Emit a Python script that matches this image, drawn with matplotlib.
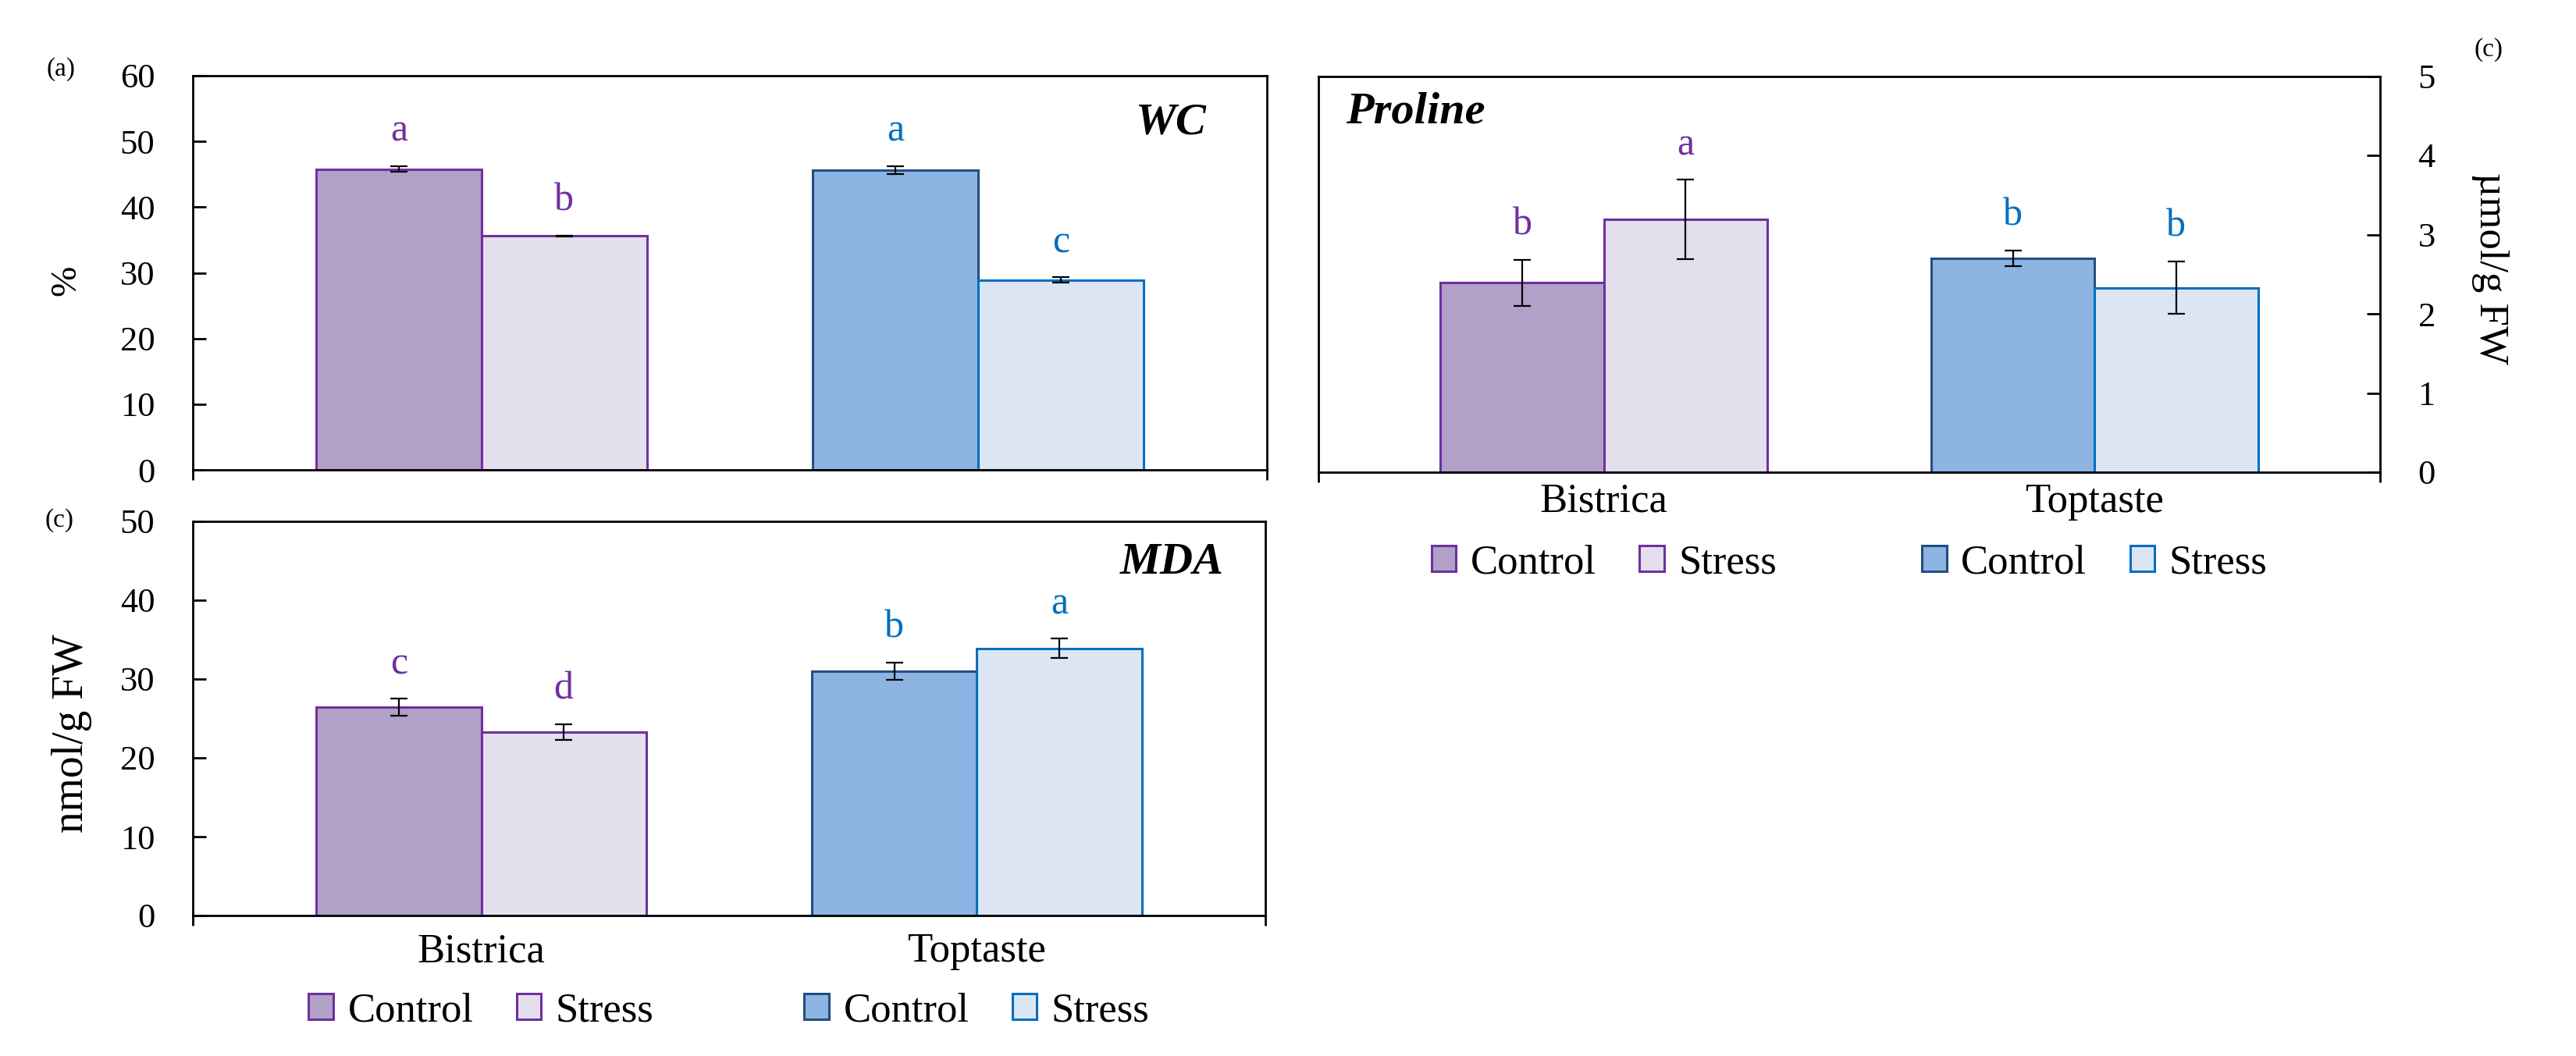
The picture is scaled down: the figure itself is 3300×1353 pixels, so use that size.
import matplotlib
matplotlib.use("Agg")
import matplotlib.pyplot as plt
import numpy as np

plt.rcParams['font.family'] = ['Liberation Serif', 'DejaVu Serif']

# ---------------- data ----------------
cultivars = ["Bistrica", "Toptaste"]
treatments = ["Control", "Stress"]

wc_control = [45.8, 45.6]
wc_stress = [35.6, 28.9]
wc_control_err = [0.4, 0.6]
wc_stress_err = [0.1, 0.4]
wc_control_letters = ["a", "a"]
wc_stress_letters = ["b", "c"]

proline_control = [2.39, 2.70]
proline_stress = [3.19, 2.33]
proline_control_err = [0.29, 0.10]
proline_stress_err = [0.50, 0.33]
proline_control_letters = ["b", "b"]
proline_stress_letters = ["a", "b"]

mda_control = [26.4, 31.0]
mda_stress = [23.3, 33.9]
mda_control_err = [1.1, 1.1]
mda_stress_err = [1.0, 1.2]
mda_control_letters = ["c", "b"]
mda_stress_letters = ["d", "a"]

wc_ticks = [0, 10, 20, 30, 40, 50, 60]
mda_ticks = [0, 10, 20, 30, 40, 50]
proline_ticks = [0, 1, 2, 3, 4, 5]

# ---------------- style ----------------
fill_colors = {("Bistrica", "Control"): "#B1A0C7", ("Bistrica", "Stress"): "#E4DFEC",
               ("Toptaste", "Control"): "#8EB4E3", ("Toptaste", "Stress"): "#DCE6F2"}
edge_colors = {("Bistrica", "Control"): "#7030A0", ("Bistrica", "Stress"): "#7030A0",
               ("Toptaste", "Control"): "#254E7E", ("Toptaste", "Stress"): "#0070C0"}
letter_colors = {"Bistrica": "#7030A0", "Toptaste": "#0070C0"}

W = 3300
H = 1353
fig = plt.figure(figsize=(W / 100, H / 100), dpi=100)


def frac_rect(l, t, r, b):
    return [l / W, 1 - b / H, (r - l) / W, (b - t) / H]


ax_wc = fig.add_axes(frac_rect(247, 97, 1623, 602))
ax_mda = fig.add_axes(frac_rect(247, 668, 1621, 1173))
ax_pro = fig.add_axes(frac_rect(1689, 97.5, 3049, 605))

XMIN, XMAX = -0.582, 1.582
BW = 0.333


def draw_panel(ax, ctrl, strs, ctrl_err, strs_err, ctrl_let, strs_let, ymax, yticks,
               right=False, show_cats=False, cat_pad=16, legend_y=None):
    x = np.arange(len(cultivars))
    handles = {}
    for i, cv in enumerate(cultivars):
        for tr, vals, errs, lets, off in (("Control", ctrl, ctrl_err, ctrl_let, -BW / 2),
                                          ("Stress", strs, strs_err, strs_let, BW / 2)):
            xpos = x[i] + off
            b = ax.bar(xpos, vals[i], width=BW, color=fill_colors[(cv, tr)],
                       edgecolor=edge_colors[(cv, tr)], linewidth=2.2, zorder=2)
            handles[(cv, tr)] = b[0]
            ax.errorbar(xpos, vals[i], yerr=errs[i], fmt='none', ecolor='black',
                        elinewidth=1.6, capsize=8, capthick=1.6, zorder=3)
            ax.annotate(lets[i], xy=(xpos, vals[i] + errs[i]), xytext=(0, 32),
                        textcoords='offset points', ha='center', va='center',
                        fontsize=36, color=letter_colors[cv])
    ax.set_xlim(XMIN, XMAX)
    ax.set_ylim(0, ymax)
    ax.set_yticks(yticks)
    for sp in ax.spines.values():
        sp.set_linewidth(2.0)
        sp.set_color('black')
        sp.set_zorder(4)
    if right:
        ax.yaxis.tick_right()
    ax.tick_params(axis='y', direction='in', length=12, width=2.0, pad=35, labelsize=32,
                   left=not right, right=right, labelleft=not right, labelright=right)
    ax.set_xticks([XMIN, XMAX], minor=True)
    ax.tick_params(axis='x', which='minor', direction='out', length=9, width=2.0)
    ax.set_xticks(x)
    if show_cats:
        ax.set_xticklabels(cultivars)
        ax.tick_params(axis='x', which='major', length=0, pad=cat_pad, labelsize=38)
    else:
        ax.set_xticklabels([])
        ax.tick_params(axis='x', which='major', length=0)
    if legend_y is not None:
        blend = ax.get_xaxis_transform()
        legs = []
        for i, cv in enumerate(cultivars):
            leg = ax.legend([handles[(cv, "Control")], handles[(cv, "Stress")]], treatments,
                            ncol=2, loc='center', bbox_to_anchor=(x[i], legend_y),
                            bbox_transform=blend, frameon=False, fontsize=38,
                            handlelength=0.6, handleheight=0.6, handletextpad=0.35,
                            columnspacing=1.05, borderaxespad=0, borderpad=0)
            legs.append(leg)
        for leg in legs[:-1]:
            ax.add_artist(leg)


draw_panel(ax_wc, wc_control, wc_stress, wc_control_err, wc_stress_err,
           wc_control_letters, wc_stress_letters, 60, wc_ticks)
draw_panel(ax_mda, mda_control, mda_stress, mda_control_err, mda_stress_err,
           mda_control_letters, mda_stress_letters, 50, mda_ticks,
           show_cats=True, cat_pad=16, legend_y=-0.242)
draw_panel(ax_pro, proline_control, proline_stress, proline_control_err, proline_stress_err,
           proline_control_letters, proline_stress_letters, 5, proline_ticks,
           right=True, show_cats=True, cat_pad=10, legend_y=-0.229)

# panel titles
ax_wc.text(0.944, 0.881, "WC", transform=ax_wc.transAxes, ha='right', va='center',
           fontsize=42, fontweight='bold', fontstyle='italic')
ax_mda.text(0.961, 0.895, "MDA", transform=ax_mda.transAxes, ha='right', va='center',
            fontsize=42, fontweight='bold', fontstyle='italic')
ax_pro.text(0.026, 0.909, "Proline", transform=ax_pro.transAxes, ha='left', va='center',
            fontsize=42, fontweight='bold', fontstyle='italic')

# y labels
fig.text(85 / W, 1 - 359 / H, "%", rotation=90, ha='center', va='center', fontsize=34)
fig.text(92 / W, 1 - 940 / H, "nmol/g FW", rotation=90, ha='center', va='center', fontsize=40)
fig.text(3190 / W, 1 - 344 / H, "µmol/g FW", rotation=-90, ha='center', va='center', fontsize=38)

# panel letters
fig.text(78 / W, 1 - 89 / H, "(a)", ha='center', va='center', fontsize=24)
fig.text(76 / W, 1 - 667 / H, "(c)", ha='center', va='center', fontsize=24)
fig.text(3188 / W, 1 - 64 / H, "(c)", ha='center', va='center', fontsize=24)

fig.savefig("out.png", dpi=100, facecolor='white')
